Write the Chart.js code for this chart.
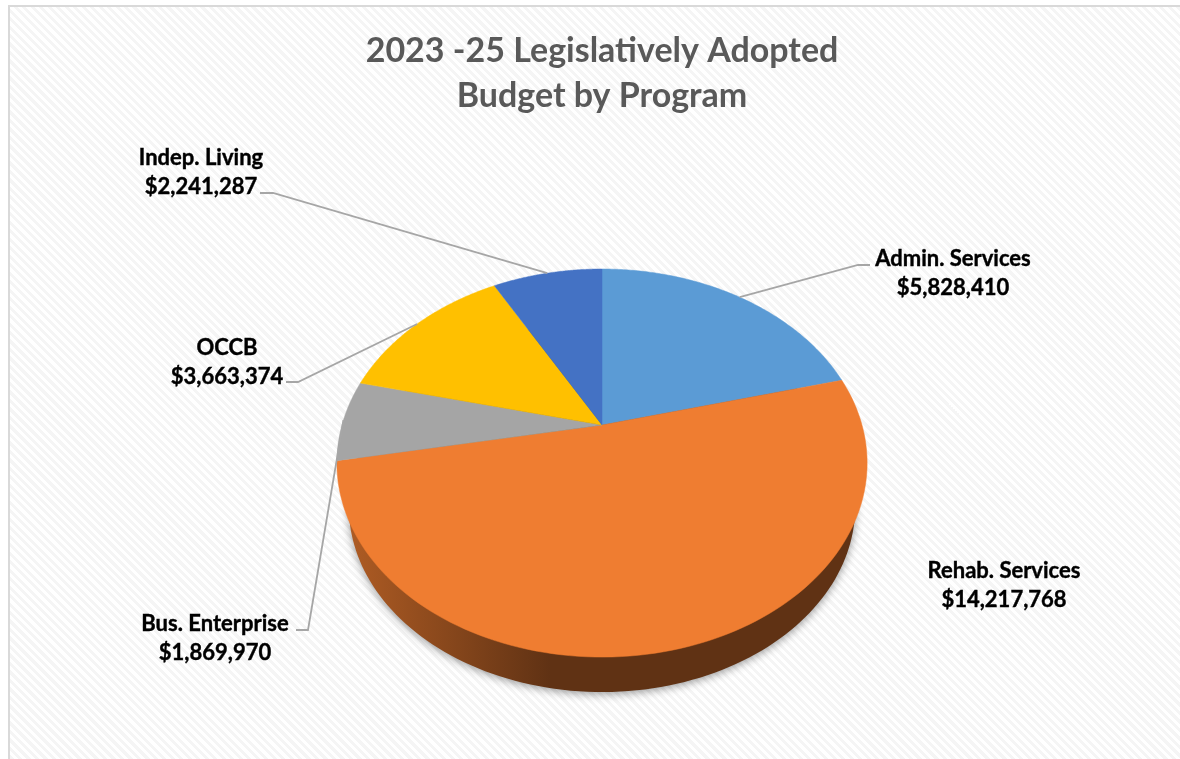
<!DOCTYPE html>
<html>
<head>
<meta charset="utf-8">
<title>Budget by Program</title>
<script src="https://cdn.jsdelivr.net/npm/chart.js@4"></script>
<style>
  html, body { margin: 0; background: #fff; }
  #frame {
    position: absolute; left: 8px; top: 5px; right: 0; bottom: 0;
    border-left: 2px solid #d9d9d9; border-top: 2px solid #d9d9d9;
    background: repeating-linear-gradient(45deg, #f5f5f5 0 3px, #fff 3px 6px);
  }
  #budgetPie { position: absolute; left: 0; top: 0; }
</style>
</head>
<body>
<div id="frame"></div>
<canvas id="budgetPie" width="1180" height="759"></canvas>
<script>
const categories = ['Admin. Services', 'Rehab. Services', 'Bus. Enterprise', 'OCCB', 'Indep. Living'];
const budget = [5828410, 14217768, 1869970, 3663374, 2241287];
const sliceColors = ['#5B9BD5', '#EF7D31', '#A5A5A5', '#FFC000', '#4472C4'];

// label centres and the elbow of each leader line, in slice order
const labelCenters = [[953, 259], [1004, 571], [215, 624], [227, 348], [201, 158]];
const labelElbows = [
  [[870, 265], [858, 265]],
  null,
  [[296, 630], [308, 630]],
  [[286, 382], [298, 382]],
  [[260, 193], [273, 193]]
];

// perspective of the tilted disc
const tilt = -0.196;
const squash = 0.7177;
// lower rim is a slightly smaller copy of the top face, pushed down
const rimShrink = 0.955;
const rimDrop = 45.4;

function tiltPoint(arc, angle, shrink = 1, drop = 0) {
  const u = Math.cos(angle), v = Math.sin(angle);
  const d = 1 + tilt * v;
  const r = arc.outerRadius * shrink;
  return { x: arc.x + r * u / d, y: arc.y + r * squash * v / d + drop };
}

function traceSlice(ctx, arc, shrink, drop) {
  const steps = 120;
  const centre = { x: arc.x, y: arc.y + drop };
  ctx.beginPath();
  ctx.moveTo(centre.x, centre.y);
  for (let i = 0; i <= steps; i++) {
    const a = arc.startAngle + (arc.endAngle - arc.startAngle) * i / steps;
    const p = tiltPoint(arc, a, shrink, drop);
    ctx.lineTo(p.x, p.y);
  }
  ctx.closePath();
}

// arcs are drawn on the tilted disc instead of as flat circle sectors
Chart.ArcElement.prototype.draw = function (ctx) {
  ctx.save();
  traceSlice(ctx, this, 1, 0);
  ctx.fillStyle = this.options.backgroundColor;
  ctx.strokeStyle = this.options.backgroundColor;
  ctx.lineWidth = 0.5;
  ctx.fill();
  ctx.stroke();
  ctx.restore();
};

function shade(hex, k) {
  const n = parseInt(hex.slice(1), 16);
  return `rgb(${(n >> 16) * k},${((n >> 8) & 255) * k},${(n & 255) * k})`;
}

const rimPlugin = {
  id: 'rim',
  beforeDatasetsDraw(chart) {
    const ctx = chart.ctx;
    chart.getDatasetMeta(0).data.forEach((arc, i) => {
      const left = arc.x - arc.outerRadius, right = arc.x + arc.outerRadius;
      const grad = ctx.createLinearGradient(left, 0, right, 0);
      grad.addColorStop(0, shade(sliceColors[i], 0.74));
      grad.addColorStop(0.4, shade(sliceColors[i], 0.4));
      grad.addColorStop(1, shade(sliceColors[i], 0.4));
      ctx.save();
      ctx.shadowColor = 'rgba(0,0,0,0.4)';
      ctx.shadowBlur = 9;
      ctx.shadowOffsetY = 2;
      traceSlice(ctx, arc, rimShrink, rimDrop);
      ctx.fillStyle = grad;
      ctx.fill();
      ctx.restore();
    });
  }
};

const labelPlugin = {
  id: 'sliceLabels',
  afterDatasetsDraw(chart) {
    const ctx = chart.ctx;
    chart.getDatasetMeta(0).data.forEach((arc, i) => {
      ctx.save();
      // leader line: stub at the label, then to the middle of the slice edge
      if (labelElbows[i]) {
        const end = tiltPoint(arc, (arc.startAngle + arc.endAngle) / 2);
        ctx.beginPath();
        ctx.moveTo(labelElbows[i][0][0], labelElbows[i][0][1]);
        ctx.lineTo(labelElbows[i][1][0], labelElbows[i][1][1]);
        ctx.lineTo(end.x, end.y);
        ctx.strokeStyle = '#a6a6a6';
        ctx.lineWidth = 1.8;
        ctx.stroke();
      }
      ctx.font = 'bold 22px Lato';
      ctx.fillStyle = '#000';
      ctx.strokeStyle = '#000';
      ctx.lineWidth = 0.4;
      ctx.textAlign = 'center';
      ctx.textBaseline = 'middle';
      const amount = '$' + budget[i].toLocaleString('en-US');
      ctx.fillText(categories[i], labelCenters[i][0], labelCenters[i][1]);
      ctx.strokeText(categories[i], labelCenters[i][0], labelCenters[i][1]);
      ctx.fillText(amount, labelCenters[i][0], labelCenters[i][1] + 29);
      ctx.strokeText(amount, labelCenters[i][0], labelCenters[i][1] + 29);
      ctx.restore();
    });
  }
};

new Chart(document.getElementById('budgetPie'), {
  type: 'pie',
  data: {
    labels: categories,
    datasets: [{
      data: budget,
      backgroundColor: sliceColors,
      borderWidth: 0
    }]
  },
  options: {
    responsive: false,
    animation: false,
    layout: { padding: { left: 342, right: 318, top: 0, bottom: 74 } },
    plugins: {
      legend: { display: false },
      tooltip: { enabled: false },
      title: {
        display: true,
        text: ['2023 -25 Legislatively Adopted', 'Budget by Program'],
        color: '#595959',
        font: { family: 'Lato', size: 34, weight: 'bold', lineHeight: 1.324 },
        padding: { top: 29, bottom: 46 }
      }
    }
  },
  plugins: [rimPlugin, labelPlugin]
});
</script>
</body>
</html>
